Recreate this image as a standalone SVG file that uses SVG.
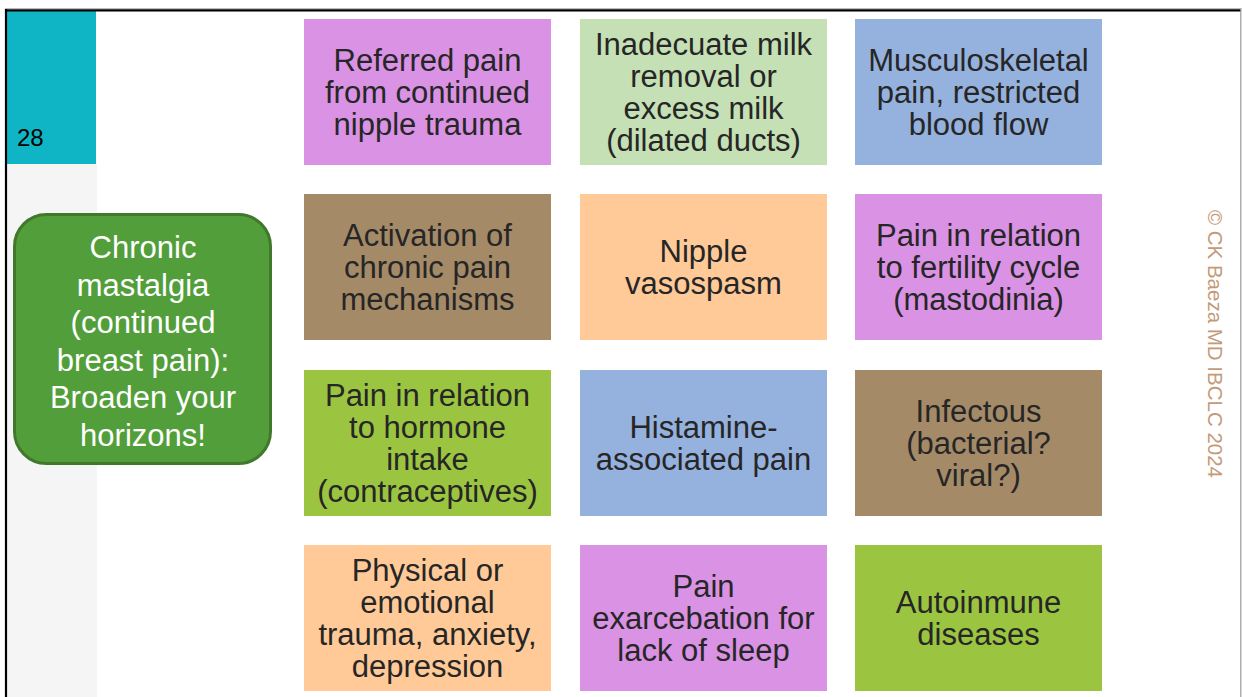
<svg xmlns="http://www.w3.org/2000/svg" width="1242" height="697" viewBox="0 0 1242 697">
<style>
  .box text, .t { font-family: "Liberation Sans", Arial, sans-serif; font-size: 31px; fill: #262626; text-anchor: middle; }
  .hub text { font-family: "Liberation Sans", Arial, sans-serif; font-size: 31px; fill: #ffffff; text-anchor: middle; }
  .pink { fill: #DA92E4; }
  .lgreen { fill: #C5E0B4; }
  .blue { fill: #95B1DE; }
  .brown { fill: #A58A68; }
  .peach { fill: #FFCA98; }
  .lime { fill: #9BC541; }
</style>
<rect x="0" y="0" width="1242" height="697" fill="#ffffff"/>
<!-- sidebar -->
<rect x="7" y="164" width="90" height="533" fill="#F5F5F5"/>
<rect x="7" y="11" width="89" height="153" fill="#0FB5C4"/>
<text x="17" y="146" style="font-family:'Liberation Sans',Arial,sans-serif;font-size:24px;fill:#000">28</text>
<!-- frame -->
<line x1="5" y1="8.5" x2="1242" y2="8.5" stroke="#BBBBBB" stroke-width="1"/>
<line x1="5" y1="10.3" x2="1241" y2="10.3" stroke="#000" stroke-width="2.2"/>
<line x1="6" y1="9" x2="6" y2="697" stroke="#000" stroke-width="2.2"/>
<line x1="1240.8" y1="9" x2="1240.8" y2="697" stroke="#9A9A9A" stroke-width="1.2"/>
<!-- copyright -->
<text transform="translate(1207.5,344) rotate(90)" style="font-family:'Liberation Sans',Arial,sans-serif;font-size:20.5px;fill:#C49A78;text-anchor:middle">© CK Baeza MD IBCLC 2024</text>

<g id="connectors"></g>

<g id="hub" class="hub">
  <rect x="14.5" y="214.5" width="256" height="249" rx="32" fill="#529E3A" stroke="#41782C" stroke-width="3"/>
  <text x="143" y="258">Chronic</text>
  <text x="143" y="295.5">mastalgia</text>
  <text x="143" y="333">(continued</text>
  <text x="143" y="370.5">breast pain):</text>
  <text x="143" y="408">Broaden your</text>
  <text x="143" y="445.5">horizons!</text>
</g>

<g id="n1" class="box">
  <rect class="pink" x="304" y="19" width="247" height="146"/>
  <text x="427.5" y="71">Referred pain</text>
  <text x="427.5" y="103">from continued</text>
  <text x="427.5" y="135">nipple trauma</text>
</g>
<g id="n2" class="box">
  <rect class="lgreen" x="580" y="19" width="247" height="146"/>
  <text x="703.5" y="55">Inadecuate milk</text>
  <text x="703.5" y="87">removal or</text>
  <text x="703.5" y="119">excess milk</text>
  <text x="703.5" y="151">(dilated ducts)</text>
</g>
<g id="n3" class="box">
  <rect class="blue" x="855" y="19" width="247" height="146"/>
  <text x="978.5" y="71">Musculoskeletal</text>
  <text x="978.5" y="103">pain, restricted</text>
  <text x="978.5" y="135">blood flow</text>
</g>

<g id="n4" class="box">
  <rect class="brown" x="304" y="194" width="247" height="146"/>
  <text x="427.5" y="246">Activation of</text>
  <text x="427.5" y="278">chronic pain</text>
  <text x="427.5" y="310">mechanisms</text>
</g>
<g id="n5" class="box">
  <rect class="peach" x="580" y="194" width="247" height="146"/>
  <text x="703.5" y="262">Nipple</text>
  <text x="703.5" y="294">vasospasm</text>
</g>
<g id="n6" class="box">
  <rect class="pink" x="855" y="194" width="247" height="146"/>
  <text x="978.5" y="246">Pain in relation</text>
  <text x="978.5" y="278">to fertility cycle</text>
  <text x="978.5" y="310">(mastodinia)</text>
</g>

<g id="n7" class="box">
  <rect class="lime" x="304" y="370" width="247" height="146"/>
  <text x="427.5" y="406">Pain in relation</text>
  <text x="427.5" y="438">to hormone</text>
  <text x="427.5" y="470">intake</text>
  <text x="427.5" y="502">(contraceptives)</text>
</g>
<g id="n8" class="box">
  <rect class="blue" x="580" y="370" width="247" height="146"/>
  <text x="703.5" y="438">Histamine-</text>
  <text x="703.5" y="470">associated pain</text>
</g>
<g id="n9" class="box">
  <rect class="brown" x="855" y="370" width="247" height="146"/>
  <text x="978.5" y="422">Infectous</text>
  <text x="978.5" y="454">(bacterial?</text>
  <text x="978.5" y="486">viral?)</text>
</g>

<g id="n10" class="box">
  <rect class="peach" x="304" y="545" width="247" height="146"/>
  <text x="427.5" y="581">Physical or</text>
  <text x="427.5" y="613">emotional</text>
  <text x="427.5" y="645">trauma, anxiety,</text>
  <text x="427.5" y="677">depression</text>
</g>
<g id="n11" class="box">
  <rect class="pink" x="580" y="545" width="247" height="146"/>
  <text x="703.5" y="597">Pain</text>
  <text x="703.5" y="629">exarcebation for</text>
  <text x="703.5" y="661">lack of sleep</text>
</g>
<g id="n12" class="box">
  <rect class="lime" x="855" y="545" width="247" height="146"/>
  <text x="978.5" y="613">Autoinmune</text>
  <text x="978.5" y="645">diseases</text>
</g>
</svg>
